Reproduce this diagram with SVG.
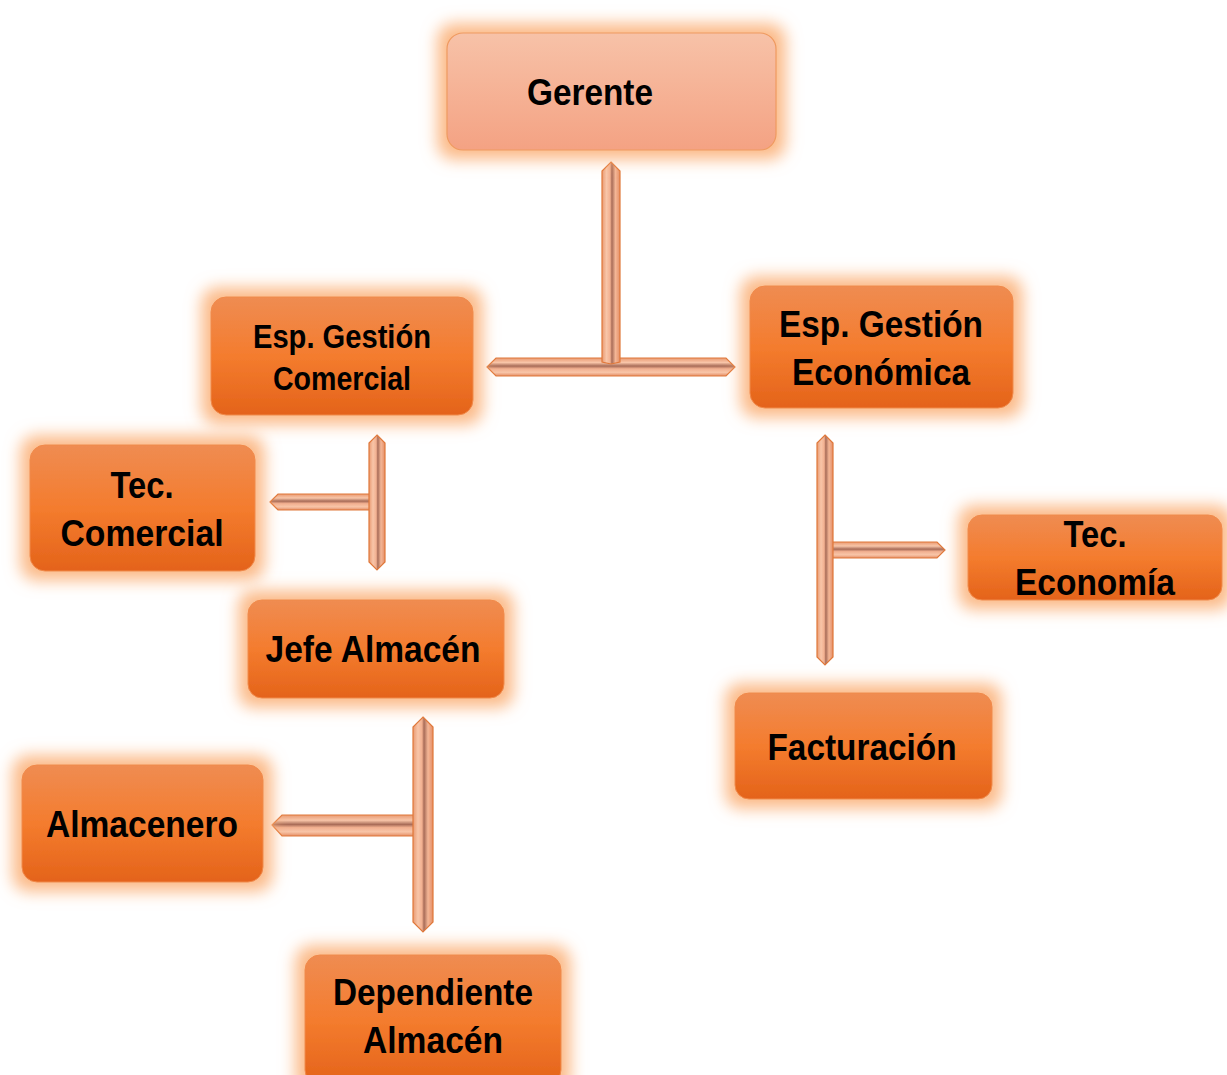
<svg xmlns="http://www.w3.org/2000/svg" width="1227" height="1075" viewBox="0 0 1227 1075">
<defs>
<linearGradient id="gPeach" x1="0" y1="0" x2="0" y2="1"><stop offset="0" stop-color="#f7c2a8"/><stop offset="1" stop-color="#f4a283"/></linearGradient>
<linearGradient id="gOrange" x1="0" y1="0" x2="0" y2="1"><stop offset="0" stop-color="#ef8c52"/><stop offset="0.5" stop-color="#f47c2e"/><stop offset="1" stop-color="#e4631a"/></linearGradient>
<linearGradient id="gBarV" x1="0" y1="0" x2="1" y2="0"><stop offset="0" stop-color="#e99a72"/><stop offset="0.25" stop-color="#f8c5a8"/><stop offset="0.45" stop-color="#f2b090"/><stop offset="0.55" stop-color="#a86c58"/><stop offset="0.75" stop-color="#f4b696"/><stop offset="1" stop-color="#e48e66"/></linearGradient>
<linearGradient id="gBarH" x1="0" y1="0" x2="0" y2="1"><stop offset="0" stop-color="#e99a72"/><stop offset="0.25" stop-color="#f8c5a8"/><stop offset="0.45" stop-color="#a86c58"/><stop offset="0.6" stop-color="#f2b090"/><stop offset="0.8" stop-color="#f8c5a8"/><stop offset="1" stop-color="#e48e66"/></linearGradient>
<filter id="glow" x="-30%" y="-40%" width="160%" height="180%">
<feMorphology in="SourceAlpha" operator="dilate" radius="9" result="d"/>
<feGaussianBlur in="d" stdDeviation="8" result="b"/>
<feFlood flood-color="#fbb27a" flood-opacity="0.9"/>
<feComposite in2="b" operator="in" result="g"/>
<feMerge><feMergeNode in="g"/><feMergeNode in="SourceGraphic"/></feMerge>
</filter>
<style>
.box{fill:url(#gOrange);stroke:#f08a4a;stroke-width:1;filter:url(#glow)}
.top{fill:url(#gPeach);stroke:#ef9a60;stroke-width:1.2;filter:url(#glow)}
.t{font-family:"Liberation Sans Narrow","Liberation Sans",Arial,sans-serif;font-weight:bold;fill:#000;text-anchor:middle}
.bv{fill:url(#gBarV);stroke:#e0783a;stroke-width:1.2}
.bh{fill:url(#gBarH);stroke:#e0783a;stroke-width:1.2}
</style>
</defs>
<rect width="1227" height="1075" fill="#fff"/>

<g id="connectors">
<polygon class="bh" points="487,367 496,358 726,358 735,367 726,376 496,376"/>
<polygon class="bv" points="611,162 620,171 620,362 611,364 602,362 602,171"/>
<polygon class="bh" points="270,502 278,494 377,494 377,510 278,510"/>
<polygon class="bv" points="377,435 385,443 385,562 377,570 369,562 369,443"/>
<polygon class="bh" points="825,542 937,542 945,550 937,558 825,558"/>
<polygon class="bv" points="825,435 833,443 833,657 825,665 817,657 817,443"/>
<polygon class="bh" points="272,825 282,815 422,815 422,836 282,836"/>
<polygon class="bv" points="423,717 433,727 433,922 423,932 413,922 413,727"/>
</g>

<g id="gerente"><rect class="top" x="447" y="33" width="329" height="117" rx="16"/>
<text class="t" x="590" y="105" font-size="37" textLength="126" lengthAdjust="spacingAndGlyphs">Gerente</text></g>

<g id="esp-comercial"><rect class="box" x="211" y="297" width="262" height="118" rx="15"/>
<text class="t" x="342" y="348" font-size="33" textLength="178" lengthAdjust="spacingAndGlyphs">Esp. Gestión</text>
<text class="t" x="342" y="390" font-size="33" textLength="138" lengthAdjust="spacingAndGlyphs">Comercial</text></g>

<g id="esp-economica"><rect class="box" x="750" y="286" width="263" height="122" rx="15"/>
<text class="t" x="881" y="337" font-size="37" textLength="204" lengthAdjust="spacingAndGlyphs">Esp. Gestión</text>
<text class="t" x="881" y="385" font-size="37" textLength="178" lengthAdjust="spacingAndGlyphs">Económica</text></g>

<g id="tec-comercial"><rect class="box" x="30" y="445" width="225" height="126" rx="15"/>
<text class="t" x="142" y="498" font-size="37" textLength="63" lengthAdjust="spacingAndGlyphs">Tec.</text>
<text class="t" x="142" y="546" font-size="37" textLength="163" lengthAdjust="spacingAndGlyphs">Comercial</text></g>

<g id="jefe-almacen"><rect class="box" x="248" y="600" width="256" height="98" rx="14"/>
<text class="t" x="373" y="662" font-size="37" textLength="215" lengthAdjust="spacingAndGlyphs">Jefe Almacén</text></g>

<g id="tec-economia"><rect class="box" x="968" y="515" width="254" height="85" rx="14"/>
<text class="t" x="1095" y="547" font-size="37" textLength="63" lengthAdjust="spacingAndGlyphs">Tec.</text>
<text class="t" x="1095" y="595" font-size="37" textLength="160" lengthAdjust="spacingAndGlyphs">Economía</text></g>

<g id="facturacion"><rect class="box" x="735" y="693" width="257" height="106" rx="14"/>
<text class="t" x="862" y="760" font-size="37" textLength="189" lengthAdjust="spacingAndGlyphs">Facturación</text></g>

<g id="almacenero"><rect class="box" x="22" y="765" width="241" height="117" rx="15"/>
<text class="t" x="142" y="837" font-size="37" textLength="192" lengthAdjust="spacingAndGlyphs">Almacenero</text></g>

<g id="dependiente"><rect class="box" x="305" y="955" width="256" height="130" rx="15"/>
<text class="t" x="433" y="1005" font-size="37" textLength="200" lengthAdjust="spacingAndGlyphs">Dependiente</text>
<text class="t" x="433" y="1053" font-size="37" textLength="140" lengthAdjust="spacingAndGlyphs">Almacén</text></g>
</svg>
